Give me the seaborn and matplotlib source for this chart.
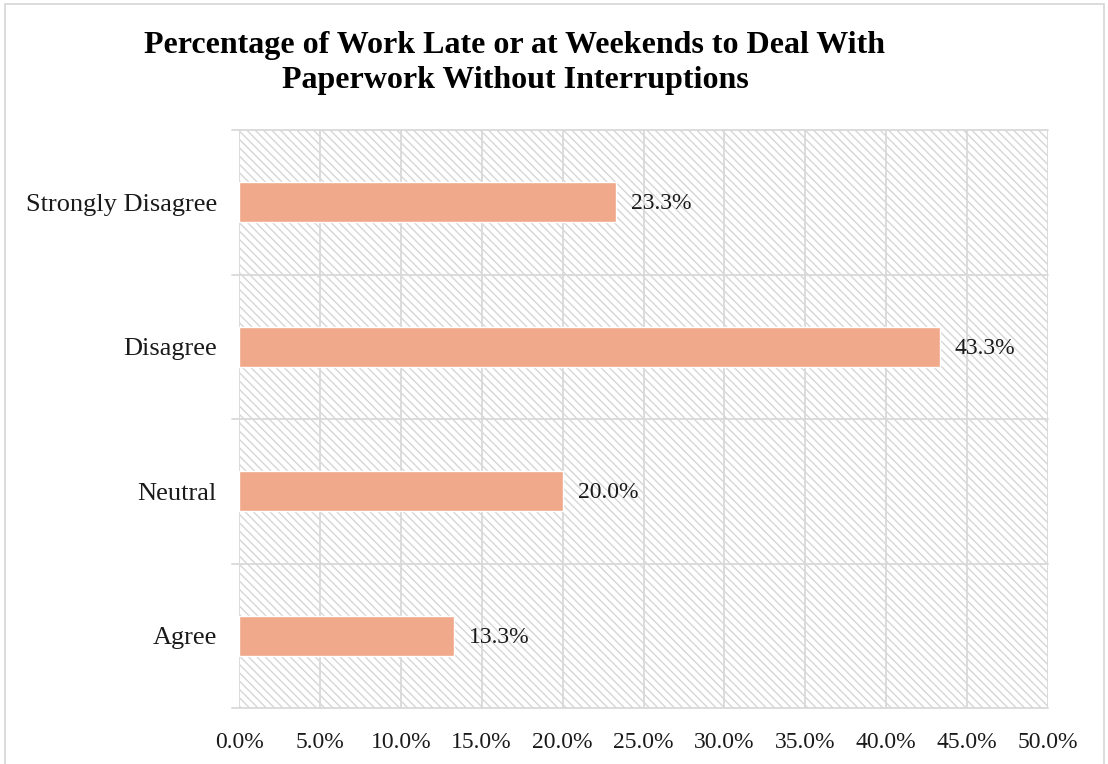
import matplotlib
matplotlib.use("Agg")
import matplotlib.pyplot as plt
import matplotlib.patches as mpatches
import seaborn as sns
import pandas as pd

categories = ["Strongly Disagree", "Disagree", "Neutral", "Agree"]
percentages = [23.3, 43.3, 20.0, 13.3]
x_ticks = [0, 5, 10, 15, 20, 25, 30, 35, 40, 45, 50]
title = "Percentage of Work Late or at Weekends to Deal With\nPaperwork Without Interruptions"

sns.set_theme(style="white")
plt.rcParams["font.family"] = ["Liberation Serif", "DejaVu Serif"]
plt.rcParams["hatch.color"] = "#d6d6d6"
plt.rcParams["hatch.linewidth"] = 1.0

df = pd.DataFrame({"category": categories, "pct": percentages})

fig = plt.figure(figsize=(11.08, 7.64), dpi=100)
ax = fig.add_axes([239 / 1108, 1 - 708 / 764, (1048 - 239) / 1108, (708 - 130) / 764])

# hatched plot-area background
ax.add_patch(mpatches.Rectangle((0, 0), 1, 1, transform=ax.transAxes,
                                facecolor="white", edgecolor="#d6d6d6",
                                hatch="\\\\\\\\", linewidth=0, zorder=0))

sns.barplot(data=df, x="pct", y="category", order=categories, color="#F0A98A",
            width=0.28, saturation=1, ax=ax, zorder=3)

ax.set_xlim(0, 50)
ax.set_ylim(3.5, -0.5)
ax.set_xticks(x_ticks)
ax.set_xticklabels([f"{v:.1f}%" for v in x_ticks], fontsize=17, color="#1a1a1a")
ax.tick_params(axis="y", labelsize=19, labelcolor="#1a1a1a", length=0, pad=16)
ax.tick_params(axis="x", length=0, pad=17)
ax.set_xlabel("")
ax.set_ylabel("")

# grid: vertical at each tick, horizontal at category boundaries
for v in x_ticks:
    ax.axvline(v, color="#d9d9d9", linewidth=1.3, zorder=1)
for b in [-0.5, 0.5, 1.5, 2.5, 3.5]:
    ax.plot([-0.009, 1], [b, b], transform=ax.get_yaxis_transform(),
            color="#d9d9d9", linewidth=1.3, zorder=1, clip_on=False)

for s in ax.spines.values():
    s.set_visible(False)

for i, v in enumerate(percentages):
    ax.text(v + 0.93, i + 0.01, f"{v:.1f}%", va="center", ha="left", fontsize=17,
            color="#1a1a1a", zorder=4)

fig.text(515 / 1108, 1 - 63 / 764, title, ha="center", va="center",
         fontsize=23, fontweight="bold", color="black", linespacing=1.3)

# chart frame
fig.patches.append(mpatches.Rectangle((5 / 1108, -0.05), 1099 / 1108, 1.05 - 4 / 764,
                                      transform=fig.transFigure, fill=False,
                                      edgecolor="#d9d9d9", linewidth=1.3))

fig.savefig("out.png", dpi=100, facecolor="white")
